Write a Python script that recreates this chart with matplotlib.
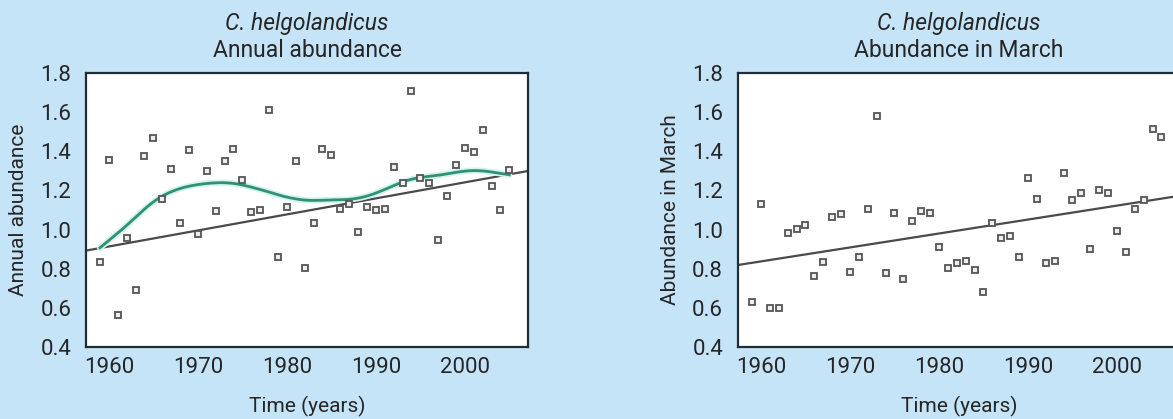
import numpy as np
import matplotlib
matplotlib.use('Agg')
import matplotlib.pyplot as plt
from matplotlib.ticker import FormatStrFormatter

plt.rcParams['font.family'] = ['Roboto', 'DejaVu Sans']

# values (one point per year)
annual_years = list(range(1959, 2006))
annual_values = [0.834, 1.356, 0.562, 0.958, 0.689, 1.378, 1.469, 1.155, 1.308, 1.033,
                 1.407, 0.977, 1.298, 1.093, 1.349, 1.411, 1.254, 1.091, 1.100, 1.614,
                 0.858, 1.114, 1.351, 0.803, 1.032, 1.411, 1.380, 1.103, 1.131, 0.987,
                 1.115, 1.101, 1.103, 1.319, 1.240, 1.708, 1.262, 1.237, 0.948, 1.172,
                 1.332, 1.416, 1.397, 1.508, 1.223, 1.101, 1.303]

march_years = list(range(1959, 2006))
march_values = [0.627, 1.131, 0.599, 0.598, 0.983, 1.004, 1.024, 0.762, 0.832, 1.065,
                1.077, 0.781, 0.857, 1.103, 1.580, 0.777, 1.084, 0.745, 1.043, 1.093,
                1.082, 0.912, 0.804, 0.830, 0.838, 0.794, 0.681, 1.034, 0.954, 0.966,
                0.859, 1.263, 1.154, 0.828, 0.837, 1.288, 1.150, 1.185, 0.898, 1.203,
                1.185, 0.993, 0.883, 1.104, 1.150, 1.517, 1.476]

# straight trend lines, value at the left and right edge of each axis
annual_xlim = [1957.43, 2007.13]
annual_trend = [0.892, 1.300]
march_xlim = [1957.39, 2007.09]
march_trend = [0.818, 1.173]

x_ticks = [1960, 1970, 1980, 1990, 2000]
y_ticks = [0.4, 0.6, 0.8, 1.0, 1.2, 1.4, 1.6, 1.8]

bg = '#C6E4F7'
text_col = '#262626'


def smooth(x, y, lam=90.0, step=0.25):
    # penalised (smoothing spline like) fit on a fine grid
    x = np.asarray(x, float)
    y = np.asarray(y, float)
    grid = np.arange(x.min(), x.max() + step / 2, step)
    n = len(grid)
    idx = np.rint((x - x.min()) / step).astype(int)
    w = np.zeros(n)
    yy = np.zeros(n)
    w[idx] = 1.0
    yy[idx] = y
    d = np.diff(np.eye(n), 2, axis=0)
    a = np.diag(w) + lam / step ** 3 * d.T @ d
    return grid, np.linalg.solve(a, w * yy)


def panel(ax, years, values, xlim, trend, title, ylabel, curve=False):
    ax.set_xlim(xlim)
    ax.set_ylim(0.4, 1.8)
    ax.plot(xlim, trend, color='#4a4a4a', lw=1.6, zorder=2)
    if curve:
        gx, gy = smooth(years, values)
        ax.plot(gx, gy, color='#d3f3ee', lw=4.5, zorder=3, solid_capstyle='round')
        ax.plot(gx, gy, color='#2f9272', lw=2.0, zorder=4)
    ax.plot(years, values, ls='none', marker='s', ms=4.5, mew=1.3,
            mfc='#eeeeee', mec='#555555', zorder=5)
    ax.set_xticks(x_ticks)
    ax.set_yticks(y_ticks)
    ax.yaxis.set_major_formatter(FormatStrFormatter('%.1f'))
    ax.tick_params(axis='both', length=0, labelsize=16, colors=text_col)
    ax.tick_params(axis='y', pad=10.5)
    ax.tick_params(axis='x', pad=7.5)
    for s in ax.spines.values():
        s.set_color('#1f2d36')
        s.set_linewidth(1.6)
    ax.set_facecolor('white')
    ax.text(0.5, 1.158, 'C. helgolandicus', style='italic', fontsize=16.5,
            ha='center', va='baseline', color=text_col, transform=ax.transAxes)
    ax.text(0.5, 1.061, title, fontsize=16.5, ha='center', va='baseline',
            color=text_col, transform=ax.transAxes)
    ax.text(-0.153, 0.5, ylabel, rotation=90, fontsize=15, ha='center', va='center',
            color=text_col, transform=ax.transAxes)
    ax.text(0.5, -0.22, 'Time (years)', fontsize=15, ha='center', va='center',
            color=text_col, transform=ax.transAxes)


fig = plt.figure(figsize=(11.73, 4.19), dpi=100)
fig.patch.set_facecolor(bg)
ax1 = fig.add_axes([0.0733, 0.1726, 0.3771, 0.6525])
ax2 = fig.add_axes([0.6289, 0.1726, 0.3771, 0.6525])

panel(ax1, annual_years, annual_values, annual_xlim, annual_trend,
      'Annual abundance', 'Annual abundance', curve=True)
panel(ax2, march_years, march_values, march_xlim, march_trend,
      'Abundance in March', 'Abundance in March')

fig.savefig('out.png', dpi=100, facecolor=bg)
